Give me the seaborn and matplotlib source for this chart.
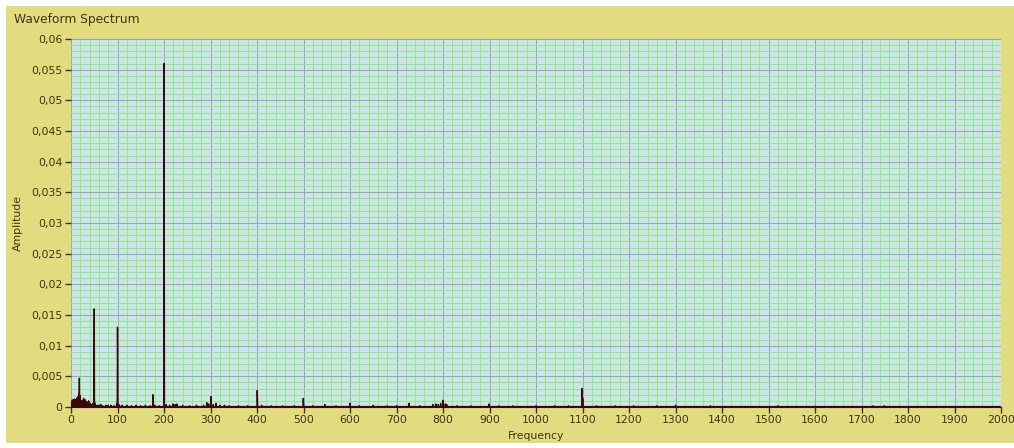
import numpy as np
import pandas as pd
import matplotlib
matplotlib.use("Agg")
import matplotlib.pyplot as plt
import seaborn as sns
from matplotlib.ticker import MultipleLocator, FuncFormatter
from matplotlib.patches import Rectangle

# peaks (Hz, amplitude)
peak_freq = [1, 2, 3, 4, 5, 6, 7, 8, 9, 10, 11, 12, 13, 14, 15, 16, 17, 18, 19, 20,
             21, 22, 24, 26, 27, 29, 30, 32, 33, 35, 36, 38, 40, 41, 44, 47, 49.5, 50, 50.5,
             52, 56, 60, 64, 68, 75, 80, 86, 92, 98, 99.5, 100, 100.5, 103, 110, 120,
             130, 140, 150, 160, 170, 176, 180, 190, 200, 200.5, 205, 212, 219, 224,
             228, 240, 255, 270, 285, 292, 296, 301, 301.5, 306, 312, 320, 330, 340,
             360, 380, 400.5, 401, 410, 430, 455, 480, 499.5, 500, 520, 546, 570,
             600, 620, 650, 680, 700, 727, 750, 778, 785, 790, 795, 800, 805, 808,
             830, 860, 899, 920, 950, 1000, 1040, 1070, 1099, 1100.5, 1130, 1170,
             1210, 1260, 1300, 1375, 1450, 1520, 1600, 1725, 1749]
peak_amp = [0.0009, 0.0006, 0.0011, 0.0007, 0.0012, 0.0008, 0.0010, 0.0013, 0.0009, 0.0012,
            0.0010, 0.0011, 0.0014, 0.0016, 0.0012, 0.0018, 0.0022, 0.0047, 0.0019, 0.0014,
            0.0011, 0.0009, 0.0007, 0.0011, 0.0014, 0.0008, 0.0012, 0.0007, 0.0009, 0.0006,
            0.0008, 0.0010, 0.0005, 0.0006, 0.0004, 0.0006, 0.0099, 0.0160, 0.0012,
            0.0006, 0.0003, 0.0003, 0.0004, 0.0002, 0.0003, 0.0003, 0.0003, 0.0002, 0.0005,
            0.0018, 0.0130, 0.0065, 0.0004, 0.0003, 0.0003,
            0.0002, 0.0003, 0.0002, 0.0003, 0.0002, 0.0020, 0.0003, 0.0002, 0.0560, 0.0355,
            0.0004, 0.0003, 0.0005, 0.0004,
            0.0005, 0.0003, 0.0002, 0.0003, 0.0003, 0.0007, 0.0005, 0.0017, 0.0009, 0.0004,
            0.0006, 0.0003, 0.0003, 0.0002,
            0.0002, 0.0002, 0.0027, 0.0012, 0.0003, 0.0002, 0.0002, 0.0002, 0.0014, 0.0008,
            0.0002, 0.0004, 0.0002,
            0.0006, 0.0002, 0.0003, 0.0002, 0.0002, 0.0006, 0.0002, 0.0004, 0.0005, 0.0004,
            0.0006, 0.0011, 0.0005, 0.0004,
            0.0002, 0.0002, 0.0005, 0.0002, 0.0002, 0.0002, 0.0002, 0.0002, 0.0030, 0.0014,
            0.0002, 0.0002,
            0.0002, 0.0002, 0.0003, 0.0002, 0.0001, 0.0002, 0.0001, 0.0002, 0.0002]

x_ticks = list(range(0, 2001, 100))
y_ticks = [0, 0.005, 0.01, 0.015, 0.02, 0.025, 0.03, 0.035, 0.04, 0.045, 0.05, 0.055, 0.06]

freq_grid = np.arange(0, 2000.5, 0.5)
spectrum = pd.Series(peak_amp, index=peak_freq).reindex(freq_grid, fill_value=0.0)
df = pd.DataFrame({"Frequency": spectrum.index, "Amplitude": spectrum.values})

panel = "#E3DC7E"
plot_bg = "#CFE3E8"
minor_col = "#86EE86"
major_col = "#86AEB4"
text_col = "#3A3515"
line_col = "#3A0808"

plt.rcParams["font.family"] = ["DejaVu Sans"]

fig = plt.figure(figsize=(10.14, 4.48), dpi=100)
fig.patch.set_facecolor("white")
fig.patches.append(Rectangle((6 / 1014, 5 / 448), 1008 / 1014, 437 / 448,
                             transform=fig.transFigure, facecolor=panel,
                             edgecolor="none", zorder=-10))

ax = fig.add_axes([71 / 1014, 41 / 448, 930 / 1014, 368 / 448])
ax.set_zorder(5)
ax.set_facecolor(plot_bg)

sns.lineplot(data=df, x="Frequency", y="Amplitude", ax=ax, color=line_col,
             linewidth=1.0, zorder=5)
ax.axhline(0, color=line_col, linewidth=1.6, zorder=6)

ax.set_xlim(0, 2000)
ax.set_ylim(0, 0.06)
ax.set_xticks(x_ticks)
ax.set_yticks(y_ticks)
ax.xaxis.set_minor_locator(MultipleLocator(20))
ax.yaxis.set_minor_locator(MultipleLocator(0.001))
ax.yaxis.set_major_formatter(FuncFormatter(lambda v, p: ("%g" % round(v, 4)).replace(".", ",")))

ax.grid(which="minor", color=minor_col, linewidth=0.72, zorder=1)
ax.grid(which="major", color=major_col, linewidth=0.72, zorder=2)
ax.set_axisbelow(True)

for s in ["top", "right", "left"]:
    ax.spines[s].set_visible(False)
ax.spines["bottom"].set_color(line_col)

ax.tick_params(which="major", length=4, width=1, color=text_col,
               labelcolor=text_col, labelsize=7.8, pad=2)
ax.tick_params(which="minor", length=0)

ax.set_xlabel("Frequency", fontsize=7.8, color=text_col, labelpad=4)
ax.set_ylabel("Amplitude", fontsize=7.8, color=text_col, labelpad=6)
fig.text(14 / 1014, 1 - 20 / 448, "Waveform Spectrum", fontsize=8.8,
         color=text_col, va="center", ha="left")

fig.savefig("out.png", dpi=100)
